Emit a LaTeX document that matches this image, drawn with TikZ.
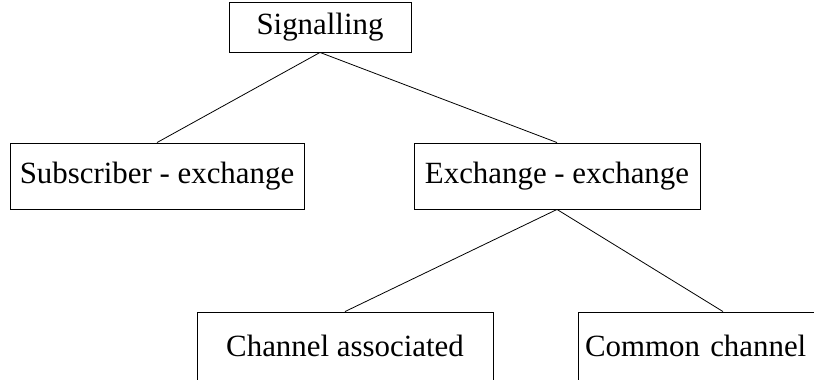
\documentclass[tikz,border=0pt]{standalone}
\usepackage{fontspec}
\setmainfont{Liberation Serif}
\begin{document}
\begin{tikzpicture}[x=1bp,y=-1bp,
  box/.style={draw=black, line width=0.9bp, fill=white, inner sep=0pt,
    font=\fontsize{31}{34}\selectfont, text=black},
  link/.style={draw=black, line width=0.8bp}]
\useasboundingbox (0,0) rectangle (814,379);
\clip (0,0) rectangle (814,379);
\node[box, minimum width=182bp, minimum height=50bp] (sig) at (320,27) {Signalling};
\node[box, minimum width=294bp, minimum height=66bp] (sub) at (157,176) {Subscriber - exchange};
\node[box, minimum width=286bp, minimum height=66bp] (exc) at (557,176) {Exchange - exchange};
\node[box, minimum width=296bp, minimum height=68bp] (cha) at (345,346) {Channel associated};
\node[box, minimum width=290bp, minimum height=68bp, text width=276bp, align=left] (com) at (723,346) {Common channel};
\draw[link] (sig.south) -- (sub.north);
\draw[link] (sig.south) -- (exc.north);
\draw[link] (exc.south) -- (cha.north);
\draw[link] (exc.south) -- (com.north);
\end{tikzpicture}
\end{document}
